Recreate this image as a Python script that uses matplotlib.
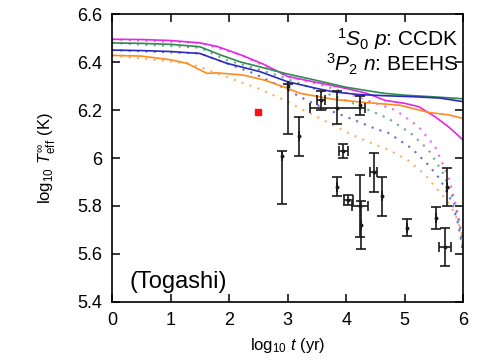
import matplotlib
matplotlib.use("Agg")
import matplotlib.pyplot as plt
from matplotlib.ticker import FuncFormatter

plt.rcParams['font.family'] = ['Liberation Sans', 'DejaVu Sans']
plt.rcParams['mathtext.fontset'] = 'custom'
plt.rcParams['mathtext.rm'] = 'Liberation Sans'
plt.rcParams['mathtext.it'] = 'Liberation Sans:italic'
plt.rcParams['mathtext.bf'] = 'Liberation Sans:bold'

# cooling curves, log10 t (yr) vs log10 Teff (K)
mag_t = [0, 0.5, 1.0, 1.5, 1.8, 2.2, 2.6, 3.0, 3.5, 4.0, 4.35, 4.67, 5.0, 5.24, 5.52, 5.75, 6.0]
mag_T = [6.495, 6.494, 6.49, 6.48, 6.465, 6.43, 6.39, 6.34, 6.315, 6.29, 6.27, 6.24, 6.228, 6.214, 6.172, 6.13, 6.075]
grn_t = [0, 0.5, 1.0, 1.5, 1.85, 2.2, 2.53, 3.0, 3.38, 4.0, 4.64, 5.0, 5.5, 6.0]
grn_T = [6.48, 6.478, 6.474, 6.464, 6.43, 6.40, 6.38, 6.35, 6.33, 6.295, 6.27, 6.262, 6.255, 6.247]
blu_t = [0, 0.5, 1.0, 1.5, 1.96, 2.53, 3.0, 3.5, 3.78, 4.2, 4.64, 5.2, 5.6, 6.0]
blu_T = [6.45, 6.448, 6.444, 6.436, 6.395, 6.36, 6.318, 6.29, 6.276, 6.265, 6.26, 6.255, 6.25, 6.235]
org_t = [0, 0.5, 0.99, 1.28, 1.62, 1.79, 2.24, 2.6, 2.93, 3.21, 3.78, 4.3, 4.92, 5.41, 5.75, 6.0]
org_T = [6.428, 6.425, 6.41, 6.395, 6.353, 6.355, 6.346, 6.325, 6.297, 6.27, 6.245, 6.232, 6.22, 6.19, 6.18, 6.165]

# dotted variants
mag_t_d = [0, 1.5, 2.2, 3.0, 3.5, 3.9, 4.3, 4.84, 5.24, 5.52, 5.75, 5.88, 5.98, 6.0]
mag_T_d = [6.495, 6.48, 6.43, 6.34, 6.31, 6.28, 6.245, 6.2, 6.13, 6.047, 5.92, 5.8, 5.68, 5.63]
grn_t_d = [0, 1.5, 1.96, 2.5, 3.0, 3.21, 3.6, 4.0, 4.52, 4.72, 5.12, 5.41, 5.66, 5.81, 5.92, 6.0]
grn_T_d = [6.48, 6.46, 6.408, 6.37, 6.33, 6.31, 6.275, 6.24, 6.186, 6.165, 6.10, 6.033, 5.936, 5.84, 5.74, 5.62]
blu_t_d = [0, 1.5, 1.68, 2.42, 3.0, 3.21, 3.6, 4.07, 4.52, 4.72, 5.12, 5.41, 5.61, 5.8, 5.92, 6.0]
blu_T_d = [6.45, 6.436, 6.42, 6.353, 6.285, 6.255, 6.21, 6.165, 6.12, 6.105, 6.04, 5.97, 5.91, 5.82, 5.72, 5.6]
org_t_d = [0, 1.28, 1.5, 2.02, 2.5, 3.0, 3.21, 3.6, 4.07, 4.5, 4.72, 5.06, 5.35, 5.52, 5.7, 5.86, 5.98, 6.0]
org_T_d = [6.428, 6.395, 6.38, 6.332, 6.29, 6.235, 6.207, 6.16, 6.10, 6.055, 6.035, 5.99, 5.93, 5.88, 5.83, 5.77, 5.68, 5.6]

# observed neutron stars
obs_t = [3.01, 3.20, 2.91, 3.57, 3.85, 4.24, 3.95, 3.85, 4.04, 4.24, 4.25, 4.47, 4.61, 5.04, 5.53, 5.69, 5.73]
obs_T = [6.30, 6.09, 6.01, 6.24, 6.21, 6.22, 6.03, 5.88, 5.825, 5.80, 5.72, 5.94, 5.84, 5.71, 5.75, 5.63, 5.88]
obs_T_lo = [0.20, 0.08, 0.20, 0.04, 0.07, 0.04, 0.03, 0.04, 0.02, 0.13, 0.10, 0.08, 0.08, 0.035, 0.045, 0.08, 0.08]
obs_T_hi = [0.01, 0.08, 0.02, 0.04, 0.07, 0.04, 0.03, 0.04, 0.02, 0.13, 0.10, 0.08, 0.08, 0.035, 0.045, 0.08, 0.08]
obs_t_err = [0, 0, 0, 0.07, 0.47, 0, 0.08, 0, 0.08, 0.14, 0, 0.06, 0, 0, 0, 0.1, 0]

red_t = [2.5]
red_T = [6.19]

fig = plt.figure(figsize=(4.83, 3.62), dpi=100)
ax = fig.add_axes([0.232, 0.166, 0.727, 0.795])

curves = [
    (mag_t, mag_T, mag_t_d, mag_T_d, '#e824e8'),
    (grn_t, grn_T, grn_t_d, grn_T_d, '#2f8a50'),
    (blu_t, blu_T, blu_t_d, blu_T_d, '#2a2ac0'),
    (org_t, org_T, org_t_d, org_T_d, '#ff8a1e'),
]
for t, T, td, Td, c in curves:
    ax.plot(td, Td, color=c, lw=1.5, ls=(0, (1, 3)), alpha=0.7)
    ax.plot(t, T, color=c, lw=1.2)

ax.errorbar(obs_t, obs_T, yerr=[obs_T_lo, obs_T_hi], xerr=obs_t_err,
            fmt='o', ms=1.8, color='#1a1a1a', ecolor='#1a1a1a',
            elinewidth=1.2, capsize=3.5, capthick=1.2)
ax.plot(red_t, red_T, 's', color='#ff1010', ms=5)

ax.set_xlim(0, 6)
ax.set_ylim(5.4, 6.6)
ax.set_xticks(range(7))
ax.set_yticks([5.4, 5.6, 5.8, 6.0, 6.2, 6.4, 6.6])
ax.yaxis.set_major_formatter(FuncFormatter(lambda v, p: ('%g' % round(v, 2))))
ax.tick_params(direction='in', length=6, width=1.1, top=True, right=True,
               labelsize=13, pad=7)
for s in ax.spines.values():
    s.set_linewidth(1.2)

ax.set_xlabel(r'log$_{10}$ $t$ (yr)', fontsize=12, labelpad=5)
ax.set_ylabel(r'log$_{10}$ $T_{\rm eff}^{\infty}$ (K)', fontsize=12, labelpad=14)

ax.text(0.985, 0.915, r'$^{1}S_{0}$ $p$: CCDK', transform=ax.transAxes,
        ha='right', va='center', fontsize=15)
ax.text(0.985, 0.825, r'$^{3}P_{2}$ $n$: BEEHS', transform=ax.transAxes,
        ha='right', va='center', fontsize=15)
ax.text(0.05, 0.07, '(Togashi)', transform=ax.transAxes,
        ha='left', va='center', fontsize=17)

fig.savefig('out.png', dpi=100)
